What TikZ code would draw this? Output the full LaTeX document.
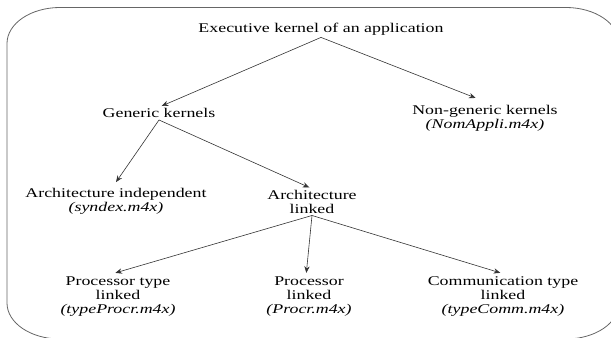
\documentclass[tikz,border=0pt]{standalone}
\usepackage{fontspec}
\setmainfont{Liberation Serif}[FakeStretch=1.34]
\usetikzlibrary{arrows.meta}

\begin{document}
\begin{tikzpicture}[x=0.75pt, y=-0.75pt, ->, >={Stealth[length=5pt, width=4pt]}, draw=black!80, line width=0.45pt, font=\fontsize{10}{10.5}\selectfont]
    \tikzstyle{kernel}=[align=center, inner sep=1.5pt, text=black]
    \tikzstyle{frame}=[-, draw=black!60, line width=0.6pt]

    \useasboundingbox (0,0) rectangle (611,338);
    \clip (0,0) rectangle (611,338);

    % outer frame, cut by the picture border on the right and at the bottom
    \draw[frame] (7,43.5) .. controls (7,23.6) and (30.7,7.5) .. (60,7.5) -- (566,7.5)
        .. controls (595.3,7.5) and (619,23.6) .. (619,43.5) -- (619,303)
        .. controls (619,322.9) and (595.3,339) .. (566,339) -- (60,339)
        .. controls (30.7,339) and (7,322.9) .. (7,303) -- cycle;

    \node[kernel] (exec) at (321,29) {Executive kernel of an application};
    \node[kernel] (gen) at (159,113) {Generic kernels};
    \node[kernel] (nongen) at (485,118) {Non-generic kernels\\\textit{(NomAppli.m4x)}};
    \node[kernel] (indep) at (116,201.5) {Architecture independent\\\textit{(syndex.m4x)}};
    \node[kernel] (arch) at (312,201.5) {Architecture\\linked};
    \node[kernel] (ptype) at (118,297) {Processor type\\linked\\\textit{(typeProcr.m4x)}};
    \node[kernel] (proc) at (309,297) {Processor\\linked\\\textit{(Procr.m4x)}};
    \node[kernel] (ctype) at (503,297) {Communication type\\linked\\\textit{(typeComm.m4x)}};

    \draw (exec.south) -- ([xshift=2pt]gen.north);
    \draw (exec.south) -- ([xshift=-7pt, yshift=3.5pt]nongen.north);
    \draw (gen.south) -- ([yshift=3pt]indep.north);
    \draw (gen.south) -- ([xshift=-2pt]arch.north);
    \draw (arch.south) -- ([xshift=-2pt, yshift=1.5pt]ptype.north);
    \draw (arch.south) -- ([xshift=-2pt, yshift=1.5pt]proc.north);
    \draw (arch.south) -- ([xshift=-2pt, yshift=1.5pt]ctype.north);

\end{tikzpicture}
\end{document}
